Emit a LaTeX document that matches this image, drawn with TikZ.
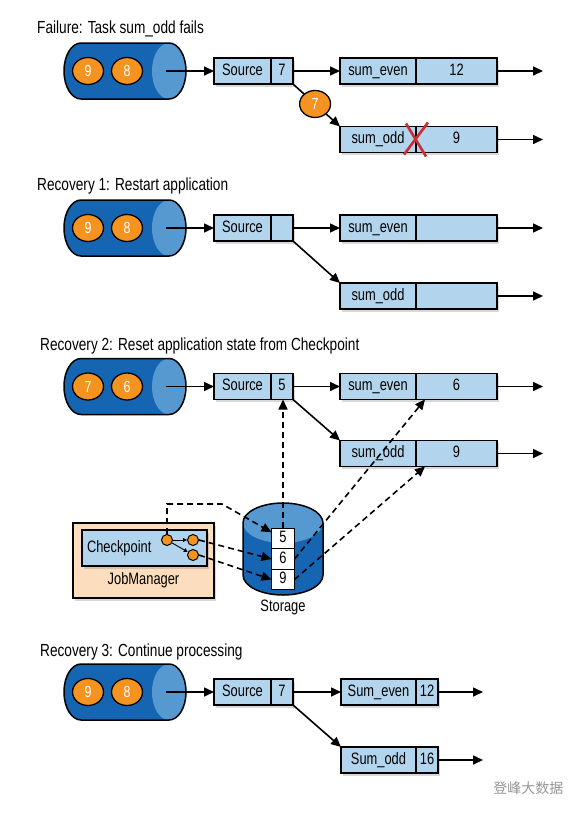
\documentclass[tikz,border=0pt]{standalone}
\usepackage{fontspec}
\setmainfont{Liberation Sans}[FakeStretch=0.78]
\newfontfamily\cjkfont{Noto Sans CJK SC}
\usetikzlibrary{arrows.meta,positioning,shapes.geometric,shadows}
\definecolor{queueblue}{RGB}{21,101,178}
\definecolor{queueface}{RGB}{86,153,209}
\definecolor{taskblue}{RGB}{178,213,237}
\definecolor{recordorange}{RGB}{245,147,33}
\definecolor{managerpeach}{RGB}{252,221,189}
\definecolor{failred}{RGB}{200,45,50}
\definecolor{markgray}{RGB}{150,150,150}

\tikzset{
  heading/.style={anchor=west,inner sep=0pt,font=\fontsize{17.5}{20}\selectfont},
  boxtext/.style={font=\fontsize{16.5}{19}\selectfont,text height=12pt,text depth=3.5pt},
  cell/.style={draw,line width=1.5pt,fill=taskblue,minimum height=26pt,inner sep=0pt,outer sep=0pt,boxtext,
    drop shadow={shadow xshift=2pt,shadow yshift=-2.5pt,opacity=0.3}},
  record/.style={ellipse,draw,line width=1.3pt,fill=recordorange,text=white,
    minimum width=31pt,minimum height=27pt,inner sep=0pt,font=\fontsize{16}{18}\selectfont},
  smallrecord/.style={circle,draw,line width=1pt,fill=recordorange,minimum size=11pt,inner sep=0pt},
  slot/.style={draw,line width=1.3pt,fill=white,minimum width=23pt,minimum height=20.5pt,
    inner sep=0pt,outer sep=0pt,boxtext},
  flow/.style={-{Triangle[length=10pt,width=9pt]},line width=1.6pt},
  restore/.style={flow,dash pattern=on 6pt off 4pt},
}

\newcommand{\inputqueue}[4]{%
  \begin{scope}[yshift=-#2pt]
    \fill[queueblue] (81,28) -- (169,28) arc[start angle=90,end angle=-90,x radius=17pt,y radius=28pt]
      -- (81,-28) arc[start angle=270,end angle=90,x radius=17pt,y radius=28pt] -- cycle;
    \fill[queueface] (169,0) ellipse[x radius=17pt,y radius=28pt];
    \draw[line width=1.5pt] (81,28) -- (169,28) arc[start angle=90,end angle=-90,x radius=17pt,y radius=28pt]
      -- (81,-28) arc[start angle=270,end angle=90,x radius=17pt,y radius=28pt] -- cycle;
    \node[record] (#1a) at (88,0) {#3};
    \node[record] (#1b) at (127,0) {#4};
    \coordinate (#1out) at (166,0);
  \end{scope}}

\begin{document}
\begin{tikzpicture}[x=1pt,y=1pt]
  \path[use as bounding box,fill=white] (0,0) rectangle (586,-815);

  \node[heading] (failtitle) at (37,-29) {Failure: Task sum\_odd fails};
  \inputqueue{fq}{71}{9}{8}
  \node[cell,minimum width=57pt] (fsrc) at (242.5,-71) {Source};
  \node[cell,minimum width=22pt,right=0pt of fsrc] (fsrcv) {7};
  \node[cell,minimum width=76pt] (feven) at (378,-71) {sum\_even};
  \node[cell,minimum width=81pt,right=0pt of feven] (fevenv) {12};
  \node[cell,minimum width=76pt] (fodd) at (378,-139.5) {sum\_odd};
  \node[cell,minimum width=81pt,right=0pt of fodd] (foddv) {9};
  \coordinate (fevenout) at (543,-71);
  \coordinate (foddout) at (543,-139.5);
  \draw[flow] (fqout) -- (fsrc);
  \draw[flow] (fsrcv) -- (feven);
  \draw[flow] (fsrcv.south east) -- node[record,pos=0.47] (frec) {7} (fodd.north west);
  \draw[flow] (fevenv) -- (fevenout);
  \draw[flow] (foddv) -- (foddout);
  \draw[failred,line width=2.6pt] ([shift={(-10pt,16pt)}]fodd.east) -- ([shift={(10pt,-17pt)}]fodd.east)
    ([shift={(12pt,17pt)}]fodd.east) -- ([shift={(-12pt,-15pt)}]fodd.east);

  \node[heading] (ratitle) at (37,-186) {Recovery 1: Restart application};
  \inputqueue{raq}{228}{9}{8}
  \node[cell,minimum width=57pt] (rasrc) at (242.5,-228) {Source};
  \node[cell,minimum width=22pt,right=0pt of rasrc] (rasrcv) {};
  \node[cell,minimum width=76pt] (raeven) at (378,-228) {sum\_even};
  \node[cell,minimum width=81pt,right=0pt of raeven] (raevenv) {};
  \node[cell,minimum width=76pt] (raodd) at (378,-296) {sum\_odd};
  \node[cell,minimum width=81pt,right=0pt of raodd] (raoddv) {};
  \coordinate (raevenout) at (543,-228);
  \coordinate (raoddout) at (543,-296);
  \draw[flow] (raqout) -- (rasrc);
  \draw[flow] (rasrcv) -- (raeven);
  \draw[flow] (rasrcv.south east) -- (raodd.north west);
  \draw[flow] (raevenv) -- (raevenout);
  \draw[flow] (raoddv) -- (raoddout);

  \node[heading] (rbtitle) at (40,-346) {Recovery 2: Reset application state from Checkpoint};
  \inputqueue{rbq}{386.5}{7}{6}
  \node[cell,minimum width=57pt] (rbsrc) at (242.5,-386.5) {Source};
  \node[cell,minimum width=22pt,right=0pt of rbsrc] (rbsrcv) {5};
  \node[cell,minimum width=76pt] (rbeven) at (378,-386.5) {sum\_even};
  \node[cell,minimum width=81pt,right=0pt of rbeven] (rbevenv) {6};
  \node[cell,minimum width=76pt] (rbodd) at (378,-453.5) {sum\_odd};
  \node[cell,minimum width=81pt,right=0pt of rbodd] (rboddv) {9};
  \coordinate (rbevenout) at (543,-386.5);
  \coordinate (rboddout) at (543,-453.5);
  \draw[flow] (rbqout) -- (rbsrc);
  \draw[flow] (rbsrcv) -- (rbeven);
  \draw[flow] (rbsrcv.south east) -- (rbodd.north west);
  \draw[flow] (rbevenv) -- (rbevenout);
  \draw[flow] (rboddv) -- (rboddout);

  \fill[queueblue] (243,-523) -- (243,-575) arc[start angle=180,end angle=360,x radius=40pt,y radius=20pt]
    -- (323,-523) -- cycle;
  \fill[queueface] (283,-523) ellipse[x radius=40pt,y radius=20pt];
  \draw[line width=1.5pt] (323,-523) arc[start angle=0,end angle=180,x radius=40pt,y radius=20pt]
    -- (243,-575) arc[start angle=180,end angle=360,x radius=40pt,y radius=20pt] -- cycle;
  \node[boxtext] (storage) at (283,-607) {Storage};
  \node[slot] (five) at (283,-538.5) {5};
  \node[slot,below=0pt of five] (six) {6};
  \node[slot,below=0pt of six] (nine) {9};

  \node[draw,line width=1.5pt,fill=managerpeach,minimum width=141pt,minimum height=75pt,
    drop shadow={shadow xshift=2pt,shadow yshift=-2.5pt,opacity=0.3}] (jobmgr) at (143.5,-560.5) {};
  \node[boxtext] (jobmgrname) at (143.5,-580) {JobManager};
  \node[cell,line width=2.4pt,minimum width=125pt,minimum height=36pt,text width=115pt,align=left,
    drop shadow={opacity=0}] (ckpt) at (144.5,-548) {Checkpoint};
  \node[smallrecord] (cka) at (167,-540) {};
  \node[smallrecord] (ckb) at (193,-540) {};
  \node[smallrecord] (ckc) at (193,-555) {};
  \draw[-{Triangle[length=4pt,width=4pt]},line width=0.9pt] (cka) -- (ckb);
  \draw[-{Triangle[length=4pt,width=4pt]},line width=0.9pt] (cka) -- (ckc);
  \coordinate (ckbend) at (222,-504);
  \draw[restore] (cka.north) |- (ckbend) -- ([yshift=-4pt]five.north west);
  \draw[restore] (ckb.east) -- (six.west);
  \draw[restore] (ckc.east) -- (nine.west);
  \draw[restore] (five.north) -- (five.north |- rbsrcv.south);
  \draw[restore] (six.east) -- ([xshift=9pt]rbevenv.south west);
  \draw[restore] (nine.east) -- ([xshift=9pt]rboddv.south west);

  \node[heading] (rctitle) at (40,-652) {Recovery 3: Continue processing};
  \inputqueue{rcq}{692}{9}{8}
  \node[cell,minimum width=57pt] (rcsrc) at (242.5,-692) {Source};
  \node[cell,minimum width=22pt,right=0pt of rcsrc] (rcsrcv) {7};
  \node[cell,minimum width=75pt] (rceven) at (378.5,-692) {Sum\_even};
  \node[cell,minimum width=22pt,right=0pt of rceven] (rcevenv) {12};
  \node[cell,minimum width=75pt] (rcodd) at (378.5,-760) {Sum\_odd};
  \node[cell,minimum width=22pt,right=0pt of rcodd] (rcoddv) {16};
  \coordinate (rcevenout) at (483,-692);
  \coordinate (rcoddout) at (483,-760);
  \draw[flow] (rcqout) -- (rcsrc);
  \draw[flow] (rcsrcv) -- (rceven);
  \draw[flow] (rcsrcv.south east) -- (rcodd.north west);
  \draw[flow] (rcevenv) -- (rcevenout);
  \draw[flow] (rcoddv) -- (rcoddout);

  \node[anchor=east,text=markgray,font=\cjkfont\fontsize{14}{16}\selectfont] (mark) at (567,-788) {登峰大数据};
\end{tikzpicture}
\end{document}
